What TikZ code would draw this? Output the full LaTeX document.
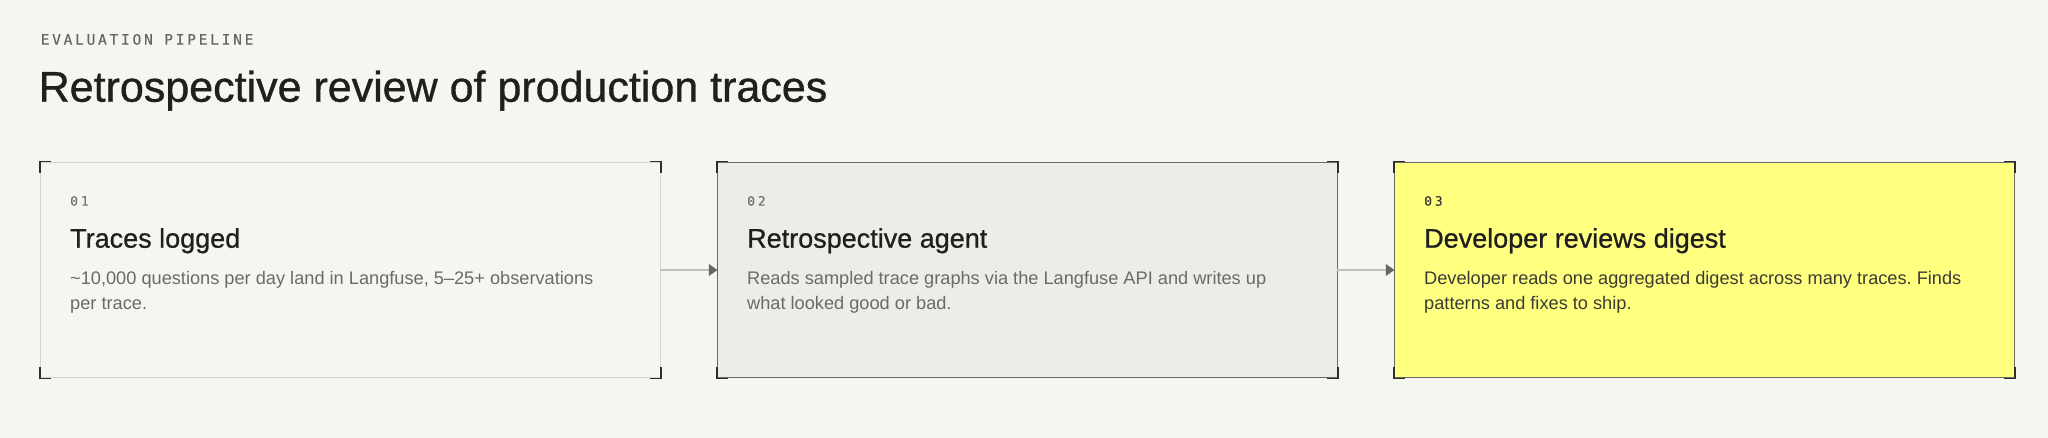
\documentclass[tikz,border=0pt]{standalone}
\usepackage{fontspec}
\setmainfont{Liberation Sans}
\newfontfamily\headsans[FakeBold=0.8]{Liberation Sans}
\newfontfamily\labelmono[LetterSpace=19,FakeBold=0.3]{DejaVu Sans Mono}
\newfontfamily\stepmono[LetterSpace=22,FakeBold=0.2]{DejaVu Sans Mono}
\usetikzlibrary{positioning,arrows.meta}
\frenchspacing
\definecolor{paper}{HTML}{F6F6F1}
\definecolor{ink}{HTML}{1F1F1D}
\definecolor{labelgray}{HTML}{66665F}
\definecolor{numgray}{HTML}{73736E}
\definecolor{descgray}{HTML}{6B6B66}
\definecolor{darktext}{HTML}{3B3B33}
\definecolor{edgelight}{HTML}{D5D5D0}
\definecolor{edgedark}{HTML}{6A6A66}
\definecolor{agentfill}{HTML}{EDEDE7}
\definecolor{digestfill}{HTML}{FFFF80}
\definecolor{cornerink}{HTML}{2E2E2C}
\definecolor{flowgray}{HTML}{C0C0BB}
\definecolor{headgray}{HTML}{666663}

\begin{document}
\begin{tikzpicture}[x=1pt,y=1pt,
  card/.style={rectangle, outer sep=0pt, inner sep=0pt, line width=1pt,
    minimum width=619.5pt, minimum height=215.4pt},
  corner/.style={draw=cornerink, line width=1.5pt},
  stepno/.style={anchor=base west, inner sep=0pt, font=\stepmono\fontsize{13}{13}\selectfont},
  steptitle/.style={anchor=base west, inner sep=0pt, text=ink, font=\headsans\fontsize{27}{27}\selectfont},
  stepdesc/.style={anchor=base west, inner sep=0pt, align=left, font=\fontsize{18.2}{25}\selectfont},
  flow/.style={draw=flowgray, line width=1.5pt, -{Triangle[length=8.7pt, width=11.7pt, color=headgray]}}]
\useasboundingbox[fill=paper] (0,0) rectangle (2048,438);

\node[anchor=base west, inner sep=0pt, text=labelgray, font=\labelmono\fontsize{14.5}{14.5}\selectfont] (kicker) at (40.5,393.3) {EVALUATION PIPELINE};
\node[anchor=base west, inner sep=0pt, text=ink, font=\headsans\fontsize{43}{43}\selectfont] (headline) at (38.5,336.3) {Retrospective review of production traces};

\node[card, draw=edgelight, fill=paper, anchor=south west] (logged) at (40.5,60.3) {};
\node[card, draw=edgedark, fill=agentfill, right=57.5pt of logged] (agent) {};
\node[card, draw=edgedark, fill=digestfill, right=57.5pt of agent] (digest) {};

\foreach \c in {logged,agent,digest}
  \foreach \a/\sx/\sy in {north west/-1/1, north east/1/1, south west/-1/-1, south east/1/-1}
    \draw[corner] ([shift={({0.75*\sx},{0.75*\sy})}]\c.\a) ++(0,{-11*\sy}) -- ++(0,{11*\sy}) -- ++({-11*\sx},0);

% the base of a two-line node sits on its last line
\node[stepno, text=numgray] (loggedno) at ([shift={(29.5,-43.4)}]logged.north west) {01};
\node[steptitle] (loggedtitle) at ([shift={(29.5,-85.4)}]logged.north west) {Traces logged};
\node[stepdesc, text=descgray] (loggeddesc) at ([shift={(29.5,-147.7)}]logged.north west)
  {\textasciitilde10,000 questions per day land in Langfuse, 5--25+ observations\\per trace.};

\node[stepno, text=numgray] (agentno) at ([shift={(29.5,-43.4)}]agent.north west) {02};
\node[steptitle] (agenttitle) at ([shift={(29.5,-85.4)}]agent.north west) {Retrospective agent};
\node[stepdesc, text=descgray] (agentdesc) at ([shift={(29.5,-147.7)}]agent.north west)
  {Reads sampled trace graphs via the Langfuse API and writes up\\what looked good or bad.};

\node[stepno, text=darktext] (digestno) at ([shift={(29.5,-43.4)}]digest.north west) {03};
\node[steptitle] (digesttitle) at ([shift={(29.5,-85.4)}]digest.north west) {Developer reviews digest};
\node[stepdesc, text=darktext] (digestdesc) at ([shift={(29.5,-147.7)}]digest.north west)
  {Developer reads one aggregated digest across many traces. Finds\\patterns and fixes to ship.};

\draw[flow] (logged.east) -- (agent.west);
\draw[flow] (agent.east) -- (digest.west);
\end{tikzpicture}
\end{document}
